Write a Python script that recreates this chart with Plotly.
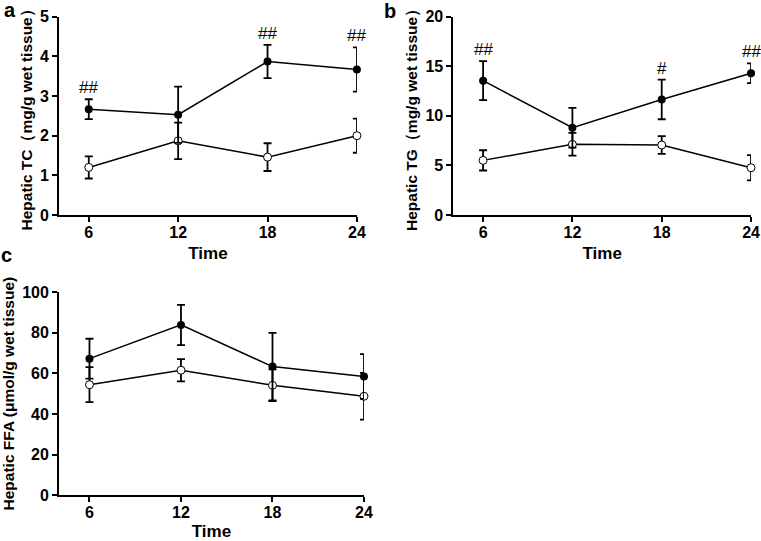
import plotly.graph_objects as go

# sampling time points
time = [6, 12, 18, 24]

# a: hepatic TC (mg/g wet tissue)
tc_filled = [2.67, 2.53, 3.87, 3.67]
tc_filled_sd = [0.25, 0.71, 0.42, 0.56]
tc_open = [1.20, 1.87, 1.46, 2.00]
tc_open_sd = [0.28, 0.46, 0.35, 0.43]
tc_sig = ['##', '', '##', '##']

# b: hepatic TG (mg/g wet tissue)
tg_filled = [13.55, 8.80, 11.66, 14.30]
tg_filled_sd = [1.97, 2.00, 2.00, 1.00]
tg_open = [5.51, 7.13, 7.06, 4.77]
tg_open_sd = [1.02, 1.15, 0.90, 1.27]
tg_sig = ['##', '', '#', '##']

# c: hepatic FFA (umol/g wet tissue)
ffa_filled = [67.2, 83.8, 63.3, 58.4]
ffa_filled_sd = [9.8, 9.9, 16.6, 11.0]
ffa_open = [54.4, 61.5, 54.1, 48.7]
ffa_open_sd = [8.6, 5.5, 7.8, 11.5]

FONT = 'Arial, Liberation Sans, sans-serif'

fig = go.Figure()

panels = [
    ('x', 'y', tc_filled, tc_filled_sd, tc_open, tc_open_sd, tc_sig),
    ('x2', 'y2', tg_filled, tg_filled_sd, tg_open, tg_open_sd, tg_sig),
    ('x3', 'y3', ffa_filled, ffa_filled_sd, ffa_open, ffa_open_sd, None),
]

for xa, ya, f, fsd, o, osd, sig in panels:
    fig.add_trace(go.Scatter(
        x=time, y=o, xaxis=xa, yaxis=ya, mode='lines+markers', cliponaxis=False,
        line=dict(color='black', width=1.5),
        marker=dict(symbol='circle', size=8, color='white', line=dict(color='black', width=1)),
        error_y=dict(type='data', array=osd, color='black', thickness=1.8, width=4),
        showlegend=False))
    fig.add_trace(go.Scatter(
        x=time, y=f, xaxis=xa, yaxis=ya, mode='lines+markers', cliponaxis=False,
        line=dict(color='black', width=1.5),
        marker=dict(symbol='circle', size=8, color='black'),
        error_y=dict(type='data', array=fsd, color='black', thickness=1.8, width=4),
        showlegend=False))
    if sig:
        for t, m, s, lab in zip(time, f, fsd, sig):
            if lab:
                fig.add_annotation(x=t, y=m + s, xref=xa, yref=ya, text=lab,
                                   showarrow=False, yanchor='bottom', yshift=0,
                                   font=dict(size=17, color='black', family=FONT))

axis_style = dict(showline=True, linecolor='black', linewidth=1.8, ticks='outside',
                  ticklen=5, tickwidth=1.8, tickcolor='black', showgrid=False, zeroline=False,
                  automargin=False,
                  tickfont=dict(size=16, color='black', family=FONT, weight='bold'))

title_font = dict(size=17, family=FONT, weight='bold', color='black')
ytitle_font = dict(size=15.5, family=FONT, weight='bold', color='black')

xkw = dict(axis_style, range=[4, 24], tickvals=time, ticklabelstandoff=-3,
           title=dict(text='Time', font=title_font, standoff=7))

fig.update_layout(
    width=761, height=541, plot_bgcolor='white', paper_bgcolor='white',
    margin=dict(l=0, r=0, t=0, b=0),
    font=dict(family=FONT, color='black'),
    xaxis=dict(xkw, domain=[0.0775, 0.469], anchor='y'),
    yaxis=dict(axis_style, domain=[0.6026, 0.969], anchor='x', range=[0, 5], dtick=1,
               title=dict(text='Hepatic TC（mg/g wet tissue）', font=ytitle_font, standoff=4)),
    xaxis2=dict(xkw, domain=[0.5957, 0.9869], anchor='y2'),
    yaxis2=dict(axis_style, domain=[0.6026, 0.969], anchor='x2', range=[0, 20], dtick=5,
                title=dict(text='Hepatic TG（mg/g wet tissue）', font=ytitle_font, standoff=4)),
    xaxis3=dict(xkw, domain=[0.0775, 0.4783], anchor='y3'),
    yaxis3=dict(axis_style, domain=[0.0845, 0.4603], anchor='x3', range=[0, 100], dtick=20,
                title=dict(text='Hepatic FFA (μmol/g wet tissue)', font=ytitle_font, standoff=4)),
)

for lab, px_, py_ in [('a', 0.013, 0.981), ('b', 0.5125, 0.979), ('c', 0.009, 0.529)]:
    fig.add_annotation(x=px_, y=py_, xref='paper', yref='paper', text=lab, showarrow=False,
                       xanchor='center', yanchor='middle',
                       font=dict(size=20, family=FONT, weight='bold', color='black'))

# page has a default 8px body margin; drop it so the figure fills the window
fig.write_html("out.html", config={'displayModeBar': False},
               post_script="document.body.style.margin='0';")
